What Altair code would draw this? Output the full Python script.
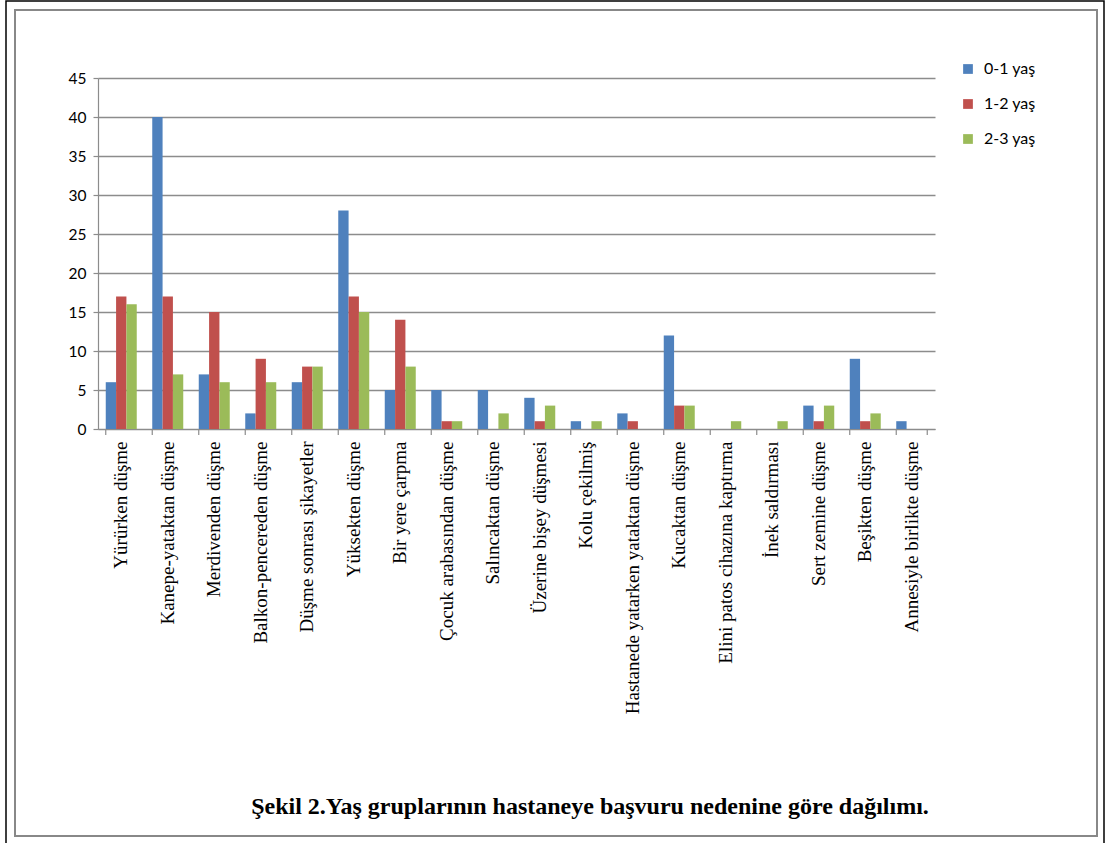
import altair as alt
import pandas as pd

categories = [
    "Yürürken düşme",
    "Kanepe-yataktan düşme",
    "Merdivenden düşme",
    "Balkon-pencereden düşme",
    "Düşme sonrası şikayetler",
    "Yüksekten düşme",
    "Bir yere çarpma",
    "Çocuk arabasından düşme",
    "Salıncaktan düşme",
    "Üzerine bişey düşmesi",
    "Kolu çekilmiş",
    "Hastanede yatarken yataktan düşme",
    "Kucaktan düşme",
    "Elini patos cihazına kaptırma",
    "İnek saldırması",
    "Sert zemine düşme",
    "Beşikten düşme",
    "Annesiyle birlikte düşme",
]
groups = ["0-1 yaş", "1-2 yaş", "2-3 yaş"]
v_0_1 = [6, 40, 7, 2, 6, 28, 5, 5, 5, 4, 1, 2, 12, 0, 0, 3, 9, 1]
v_1_2 = [17, 17, 15, 9, 8, 17, 14, 1, 0, 1, 0, 1, 3, 0, 0, 1, 1, 0]
v_2_3 = [16, 7, 6, 6, 8, 15, 8, 1, 2, 3, 1, 0, 3, 1, 1, 3, 2, 0]
colors = ["#4F81BD", "#C0504D", "#9BBB59"]
y_ticks = [0, 5, 10, 15, 20, 25, 30, 35, 40, 45]
title_text = "Şekil 2.Yaş gruplarının hastaneye başvuru nedenine göre dağılımı."

rows = []
for g, vals in zip(groups, [v_0_1, v_1_2, v_2_3]):
    for c, v in zip(categories, vals):
        rows.append({"neden": c, "grup": g, "deger": v})
df = pd.DataFrame(rows)
cat_df = pd.DataFrame({"neden": categories})
one = pd.DataFrame({"t": [title_text]})

W, H = 837, 351
PL, PT = 98, 78
GRAY = "#8c8c8c"

xscale = alt.Scale(domain=categories, paddingInner=0.3333, paddingOuter=0.1667)

bars = alt.Chart(df).mark_bar().encode(
    x=alt.X("neden:N", sort=categories, scale=xscale, title=None),
    xOffset=alt.XOffset("grup:N", sort=groups,
                        scale=alt.Scale(paddingInner=0, paddingOuter=0)),
    y=alt.Y("deger:Q", scale=alt.Scale(domain=[0, 45], nice=False),
            axis=alt.Axis(values=y_ticks), title=None),
    color=alt.Color("grup:N", sort=groups,
                    scale=alt.Scale(domain=groups, range=colors),
                    legend=alt.Legend(title=None, orient="none",
                                      legendX=862, legendY=-17,
                                      symbolType="square", symbolSize=95,
                                      symbolStrokeWidth=0,
                                      labelFont="Lato", labelFontSize=16,
                                      labelColor="#000000", labelOffset=8,
                                      rowPadding=19, padding=0)),
)

ticks_left = alt.Chart(cat_df).mark_rule(color=GRAY, strokeWidth=1.2).encode(
    x=alt.X("neden:N", sort=categories, scale=xscale, bandPosition=0, title=None),
    y=alt.value(H),
    y2=alt.value(H + 6),
)
ticks_right = alt.Chart(cat_df).transform_filter(
    alt.datum.neden == categories[-1]
).mark_rule(color=GRAY, strokeWidth=1.2).encode(
    x=alt.X("neden:N", sort=categories, scale=xscale, bandPosition=1, title=None),
    y=alt.value(H),
    y2=alt.value(H + 6),
)

frame_outer = alt.Chart(one).mark_rect(fill=None, stroke="#000000", strokeWidth=1.5).encode(
    x=alt.value(6 - PL), x2=alt.value(1104 - PL),
    y=alt.value(1 - PT), y2=alt.value(850 - PT),
)
frame_inner = alt.Chart(one).mark_rect(fill=None, stroke="#888888", strokeWidth=2).encode(
    x=alt.value(15 - PL), x2=alt.value(1097 - PL),
    y=alt.value(10 - PT), y2=alt.value(836 - PT),
)

title = alt.Chart(one).mark_text(
    font="Liberation Serif", fontSize=24, fontWeight="bold", color="#000000",
    align="center", baseline="alphabetic",
).encode(text="t:N", x=alt.value(590 - PL), y=alt.value(814 - PT))

chart = alt.layer(frame_outer, frame_inner, bars, ticks_left, ticks_right, title).properties(
    width=W, height=H,
    autosize=alt.AutoSizeParams(type="none"),
    padding={"left": PL, "top": PT, "right": 1105 - PL - W, "bottom": 843 - PT - H},
    background="white",
).configure_view(stroke=None).configure_axisX(
    ticks=False, domainColor=GRAY, domainWidth=1.2, labelAngle=270,
    labelAlign="right", labelBaseline="middle", labelPadding=12,
    labelFont="Liberation Serif", labelFontSize=19, labelColor="#000000",
    labelLimit=0, grid=False,
).configure_axisY(
    grid=True, gridColor=GRAY, gridWidth=1.3, domainColor=GRAY, domainWidth=1.2,
    tickColor=GRAY, tickSize=5, tickWidth=1.2, labelPadding=7,
    labelFont="Lato", labelFontSize=15.5, labelColor="#000000",
)

chart.save("out.html", embed_options={"renderer": "svg", "actions": False})
